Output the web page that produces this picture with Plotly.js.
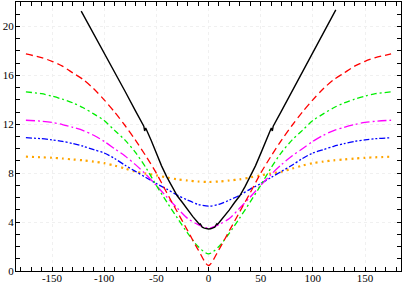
<!DOCTYPE html>
<html>
<head>
<meta charset="utf-8">
<script src="https://cdn.plot.ly/plotly-3.0.1.min.js"></script>
<style>html,body{margin:0;padding:0;background:#fff;}#chart{width:403px;height:284px;}</style>
</head>
<body>
<div id="chart"></div>
<script>
// x positions shared by the five bell-shaped curves
var xCurve = [-175,-160,-150,-140,-130,-120,-110,-100,-90,-80,-70,-60,-50,-40,-30,-20,-10,0,10,20,30,40,50,60,70,80,90,100,110,120,130,140,150,160,175];
var redY = [17.75,17.45,17.15,16.75,16.2,15.65,14.9,14.0,13.0,11.9,10.7,9.4,8.0,6.4,4.85,3.3,1.75,0.45,1.75,3.3,4.85,6.4,8.0,9.4,10.7,11.9,13.0,14.0,14.9,15.65,16.2,16.75,17.15,17.45,17.75];
var greenY = [14.65,14.5,14.3,14.05,13.75,13.35,12.85,12.3,11.5,10.7,9.7,8.45,7.0,5.65,4.35,3.1,2.0,1.4,2.0,3.1,4.35,5.65,7.0,8.45,9.7,10.7,11.5,12.3,12.85,13.35,13.75,14.05,14.3,14.5,14.65];
var magentaY = [12.33,12.25,12.15,11.98,11.75,11.48,11.1,10.6,10.0,9.4,8.7,7.9,7.0,6.05,5.15,4.3,3.8,3.5,3.8,4.3,5.15,6.05,7.0,7.9,8.7,9.4,10.0,10.6,11.1,11.48,11.75,11.98,12.15,12.25,12.33];
var blueY = [10.9,10.82,10.72,10.6,10.42,10.2,9.92,9.65,9.2,8.65,8.15,7.65,7.15,6.7,6.2,5.8,5.45,5.3,5.45,5.8,6.2,6.7,7.15,7.65,8.15,8.65,9.2,9.65,9.92,10.2,10.42,10.6,10.72,10.82,10.9];
var orangeY = [9.35,9.3,9.26,9.2,9.12,9.05,8.95,8.82,8.62,8.38,8.12,7.97,7.82,7.65,7.5,7.4,7.32,7.28,7.32,7.4,7.5,7.65,7.82,7.97,8.12,8.38,8.62,8.82,8.95,9.05,9.12,9.2,9.26,9.3,9.35];
// black solid curve
var blackX = [-122,-110,-100,-90,-80,-70,-62,-61.2,-60.2,-55,-50,-45,-40,-35,-30,-25,-20,-15,-10,-8.5,-7.8,-6,-4,-2,0,2,4,6,7.8,8.5,10,15,20,25,30,35,40,45,50,55,60.2,61.2,62,70,80,90,100,110,122];
var blackY = [21.25,19.4,17.85,16.3,14.7,13.1,11.85,11.45,11.7,10.7,9.6,8.6,7.7,6.9,6.15,5.6,5.0,4.45,3.95,3.82,3.85,3.58,3.5,3.45,3.43,3.45,3.5,3.58,3.85,3.82,3.95,4.45,5.0,5.6,6.15,6.9,7.7,8.6,9.6,10.7,11.7,11.45,11.85,13.1,14.7,16.3,17.85,19.4,21.35];
// axis ticks
var xTickVals = [-150,-100,-50,0,50,100,150];
var xTickText = ['-150','-100','-50','0','50','100','150'];
var xMinorVals = [-180,-170,-160,-140,-130,-120,-110,-90,-80,-70,-60,-40,-30,-20,-10,10,20,30,40,60,70,80,90,110,120,130,140,160,170,180];
var yTickVals = [0,4,8,12,16,20];
var yTickText = ['0','4','8','12','16','20'];
var yMinorVals = [1,2,3,5,6,7,9,10,11,13,14,15,17,18,19,21];

function curve(y, color, dash, width) {
  return {x: xCurve, y: y, type: 'scatter', mode: 'lines',
    line: {color: color, dash: dash, width: width, shape: 'spline', smoothing: 0.8},
    hoverinfo: 'skip', showlegend: false};
}
var traces = [
  curve(orangeY, '#ffa500', '2px,4px', 2.2),
  curve(blueY, '#0000ff', '6px,2px,2px,2px,2px,2px', 1.3),
  curve(magentaY, '#ff00ff', '9px,3px,2px,3px', 1.3),
  curve(greenY, '#00ee00', '6px,3px,2px,3px', 1.3),
  curve(redY, '#ff0000', '7px,4px', 1.3),
  {x: blackX, y: blackY, type: 'scatter', mode: 'lines', line: {color: '#000', width: 1.4},
   hoverinfo: 'skip', showlegend: false}
];
var font = {family: 'Liberation Serif, DejaVu Serif, serif', size: 11, color: '#000'};
var axisCommon = {
  showline: true, linecolor: '#000', linewidth: 1, mirror: 'ticks',
  ticks: 'inside', ticklen: 4, tickcolor: '#000', tickwidth: 1,
  showgrid: true, gridcolor: '#f0f0f0', griddash: 'dot', gridwidth: 1,
  zeroline: false, tickfont: font, tickmode: 'array'
};
var layout = {
  width: 403, height: 284,
  margin: {l: 16, r: 2, t: 2, b: 13, pad: 0},
  font: font,
  paper_bgcolor: '#fff', plot_bgcolor: '#fff',
  showlegend: false,
  xaxis: Object.assign({}, axisCommon, {range: [-184.5, 184.5], tickvals: xTickVals, ticktext: xTickText,
    ticklabelstandoff: -3,
    minor: {tickmode: 'array', tickvals: xMinorVals, ticks: 'inside', ticklen: 4, tickcolor: '#000', showgrid: false}}),
  yaxis: Object.assign({}, axisCommon, {range: [0, 22], tickvals: yTickVals, ticktext: yTickText,
    ticklabelstandoff: -1,
    minor: {tickmode: 'array', tickvals: yMinorVals, ticks: 'inside', ticklen: 4, tickcolor: '#000', showgrid: false}})
};
Plotly.newPlot('chart', traces, layout, {staticPlot: true, displayModeBar: false});
</script>
</body>
</html>
